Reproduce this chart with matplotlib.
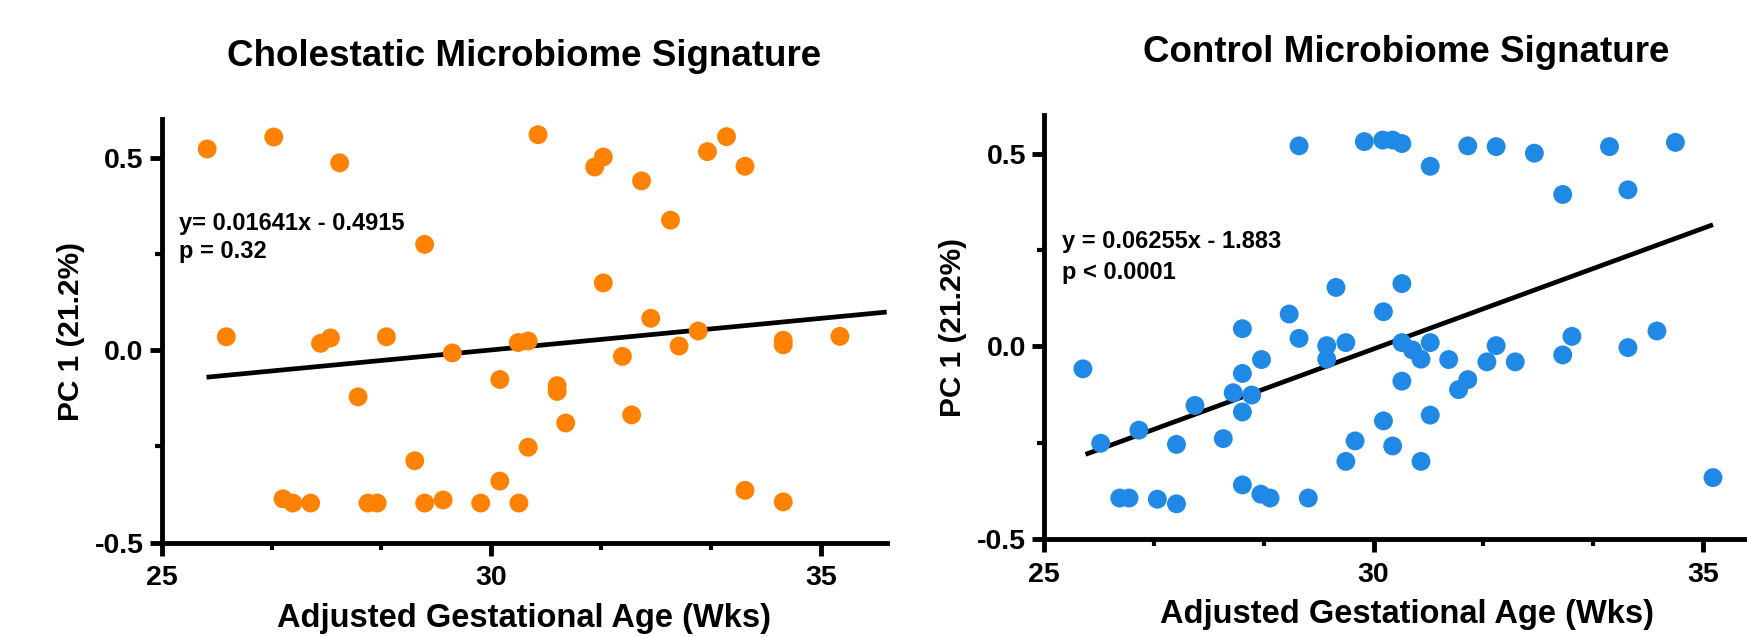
import matplotlib
matplotlib.use("Agg")
import matplotlib.pyplot as plt
from matplotlib.ticker import MultipleLocator, FormatStrFormatter
import numpy as np

plt.rcParams['font.family'] = ['Liberation Sans', 'DejaVu Sans']
plt.rcParams['font.weight'] = 'bold'
plt.rcParams['axes.unicode_minus'] = False

# Cholestatic group: adjusted gestational age (wks) vs PC 1
chol_age = [25.69, 26.70, 27.70, 25.98, 27.41, 27.56, 28.41, 27.98, 28.99, 29.41,
            30.13, 28.84, 30.13, 26.84, 26.99, 27.26, 28.13, 28.27, 28.99, 29.27,
            29.84, 30.42, 30.71, 31.57, 31.70, 32.28, 32.72, 33.28, 33.57, 33.85,
            31.70, 30.41, 30.56, 32.42, 31.99, 32.85, 33.14, 34.43, 34.43, 35.29,
            31.00, 31.00, 31.13, 32.13, 30.56, 33.85, 34.43]
chol_pc1 = [0.523, 0.554, 0.487, 0.035, 0.018, 0.032, 0.035, -0.121, 0.275, -0.007,
            -0.076, -0.287, -0.340, -0.386, -0.397, -0.397, -0.397, -0.397, -0.397, -0.389,
            -0.397, -0.397, 0.560, 0.476, 0.502, 0.440, 0.338, 0.516, 0.555, 0.478,
            0.175, 0.020, 0.024, 0.083, -0.016, 0.011, 0.050, 0.026, 0.014, 0.036,
            -0.092, -0.107, -0.189, -0.168, -0.252, -0.364, -0.394]

# Control group
ctrl_age = [25.59, 25.86, 26.44, 26.15, 26.29, 26.72, 27.01, 27.01, 27.29, 27.72,
            27.87, 28.01, 28.01, 28.01, 28.15, 28.30, 28.01, 28.29, 28.43, 29.01,
            28.72, 28.87, 28.87, 29.29, 29.29, 29.43, 29.58, 29.58, 29.72, 30.15,
            30.15, 30.29, 29.86, 30.14, 30.29, 30.43, 30.86, 31.43, 31.86, 32.44,
            32.87, 33.58, 33.86, 34.58, 30.43, 30.43, 30.59, 30.72, 30.86, 31.14,
            30.43, 31.29, 31.43, 31.72, 31.86, 32.15, 32.87, 33.01, 33.86, 34.30,
            35.15, 30.72, 30.86]
ctrl_pc1 = [-0.058, -0.251, -0.217, -0.393, -0.393, -0.396, -0.408, -0.254, -0.153, -0.239,
            -0.120, -0.070, 0.046, -0.170, -0.126, -0.034, -0.359, -0.383, -0.393, -0.393,
            0.084, 0.021, 0.520, 0.002, -0.033, 0.153, 0.010, -0.298, -0.245, -0.193,
            0.090, -0.258, 0.531, 0.535, 0.535, 0.526, 0.467, 0.520, 0.518, 0.501,
            0.394, 0.518, 0.406, 0.529, 0.163, 0.010, -0.009, -0.033, 0.010, -0.034,
            -0.090, -0.112, -0.086, -0.040, 0.002, -0.040, -0.022, 0.026, -0.003, 0.040,
            -0.340, -0.298, -0.178]

# regression lines as printed on the chart
chol_fit = (0.01641, -0.4915)
ctrl_fit = (0.06255, -1.883)
chol_line_x = [25.68, 36.0]
ctrl_line_x = [25.63, 35.15]

panels = [
    dict(title="Cholestatic Microbiome Signature", x=chol_age, y=chol_pc1,
         fit=chol_fit, lx=chol_line_x, color="#FF8205",
         eq="y= 0.01641x - 0.4915", p="p = 0.32",
         pos=[161.7, 119.3, 542.7], txt=(25.26, 0.312, 0.240)),
    dict(title="Control Microbiome Signature", x=ctrl_age, y=ctrl_pc1,
         fit=ctrl_fit, lx=ctrl_line_x, color="#1F89E5",
         eq="y = 0.06255x - 1.883", p="p < 0.0001",
         pos=[1044.0, 115.0, 539.3], txt=(25.28, 0.254, 0.176)),
]

W, H = 1747, 637
fig = plt.figure(figsize=(W / 100, H / 100), dpi=100)

for pn in panels:
    x0, top, bot = pn["pos"]
    ax = fig.add_axes([x0 / W, (H - bot) / H, 725 / W, (bot - top) / H])

    lx = np.array(pn["lx"])
    ax.plot(lx, pn["fit"][0] * lx + pn["fit"][1], color="black", lw=3.4, zorder=2,
            solid_capstyle="butt")
    ax.scatter(pn["x"], pn["y"], s=185, color=pn["color"], edgecolors="none", zorder=3)

    ax.set_xlim(25, 36)
    ax.set_ylim(-0.5, 0.6)
    ax.spines[['top', 'right']].set_visible(False)
    for s in ['left', 'bottom']:
        ax.spines[s].set_linewidth(3.5)
    ax.xaxis.set_major_locator(MultipleLocator(5))
    ax.xaxis.set_minor_locator(MultipleLocator(5 / 3))
    ax.yaxis.set_major_locator(MultipleLocator(0.5))
    ax.yaxis.set_minor_locator(MultipleLocator(0.25))
    ax.yaxis.set_major_formatter(FormatStrFormatter('%.1f'))
    ax.tick_params(which='major', length=9, width=3.5, labelsize=20.5, pad=4)
    ax.tick_params(axis='x', which='major', pad=7)
    ax.tick_params(which='minor', length=5, width=3)
    for lab in ax.get_xticklabels() + ax.get_yticklabels():
        lab.set_fontweight('bold')

    ax.text(0.5, 1 + 63 / (bot - top), pn["title"], transform=ax.transAxes,
            ha='center', va='center', fontsize=26.5, fontweight='bold')
    ax.text(0.5, -84 / (bot - top), "Adjusted Gestational Age (Wks)", transform=ax.transAxes,
            ha='center', va='baseline', fontsize=23.5, fontweight='bold')
    ax.text(-91 / 725, 0.5, "PC 1 (21.2%)", transform=ax.transAxes, rotation=90,
            ha='center', va='center', fontsize=21.5, fontweight='bold')

    tx, ty1, ty2 = pn["txt"]
    ax.text(tx, ty1, pn["eq"], ha='left', va='baseline', fontsize=17, fontweight='bold')
    ax.text(tx, ty2, pn["p"], ha='left', va='baseline', fontsize=17, fontweight='bold')

fig.savefig("out.png", dpi=100)
